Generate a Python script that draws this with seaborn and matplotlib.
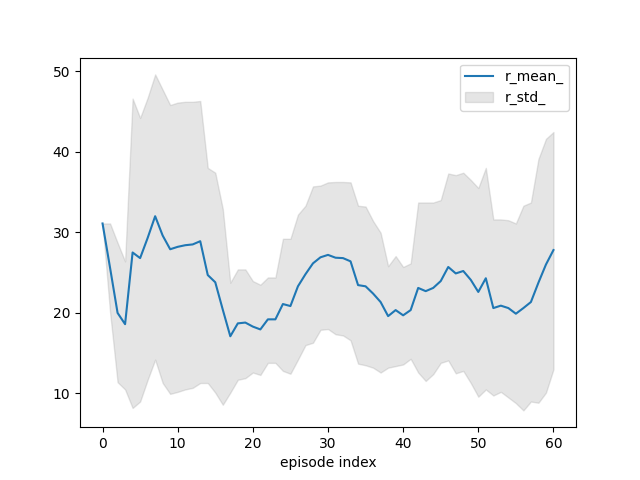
import matplotlib
matplotlib.use("Agg")
import matplotlib.pyplot as plt
import seaborn as sns
import numpy as np
import pandas as pd

episode = list(range(61))
r_mean = [31.1, 25.6, 20.0, 18.6, 27.5, 26.8, 29.3, 32.0, 29.6, 27.9,
          28.2, 28.4, 28.5, 28.9, 24.7, 23.8, 20.4, 17.1, 18.7, 18.8,
          18.3, 17.95, 19.2, 19.2, 21.1, 20.85, 23.3, 24.8, 26.15, 26.9,
          27.2, 26.85, 26.8, 26.4, 23.45, 23.3, 22.4, 21.35, 19.6, 20.35,
          19.7, 20.35, 23.1, 22.7, 23.1, 23.95, 25.7, 24.9, 25.2, 24.1,
          22.6, 24.3, 20.6, 20.9, 20.6, 19.9, 20.6, 21.35, 23.75, 26.0,
          27.8]
r_upper = [31.1, 31.1, 28.7, 26.4, 46.6, 44.2, 46.7, 49.6, 47.7, 45.8,
           46.1, 46.2, 46.2, 46.3, 38.0, 37.4, 32.9, 23.75, 25.4, 25.4,
           23.95, 23.5, 24.4, 24.4, 29.2, 29.2, 32.2, 33.3, 35.7, 35.8,
           36.2, 36.25, 36.25, 36.2, 33.3, 33.2, 31.4, 29.95, 25.8, 27.05,
           25.7, 26.15, 33.7, 33.7, 33.7, 34.0, 37.3, 37.1, 37.4, 36.5,
           35.5, 38.0, 31.6, 31.6, 31.5, 31.1, 33.3, 33.7, 39.1, 41.6,
           42.45]
r_lower = [31.1, 20.1, 11.4, 10.5, 8.2, 9.0, 11.7, 14.2, 11.3, 9.95,
           10.2, 10.5, 10.7, 11.3, 11.3, 10.1, 8.6, 10.1, 11.7, 11.9,
           12.6, 12.3, 13.8, 13.8, 12.8, 12.45, 14.2, 16.0, 16.3, 17.9,
           18.0, 17.35, 17.2, 16.6, 13.7, 13.5, 13.2, 12.6, 13.2, 13.4,
           13.6, 14.3, 12.6, 11.55, 12.4, 13.8, 14.1, 12.5, 12.8, 11.3,
           9.6, 10.5, 9.75, 10.2, 9.5, 8.8, 7.9, 9.0, 8.85, 10.1,
           13.0]

df = pd.DataFrame({"episode": episode, "r_mean_": r_mean,
                   "upper": r_upper, "lower": r_lower})

fig, ax = plt.subplots(figsize=(6.4, 4.8), dpi=100)
sns.lineplot(data=df, x="episode", y="r_mean_", ax=ax, color="#1f77b4",
             label="r_mean_")
ax.fill_between(df["episode"], df["lower"], df["upper"], color="gray",
                alpha=0.2, label="r_std_")
ax.set_xlabel("episode index")
ax.set_ylabel("")
ax.set_xticks([0, 10, 20, 30, 40, 50, 60])
ax.set_yticks([10, 20, 30, 40, 50])
ax.legend(loc="upper right")
fig.savefig("out.png", dpi=100)
